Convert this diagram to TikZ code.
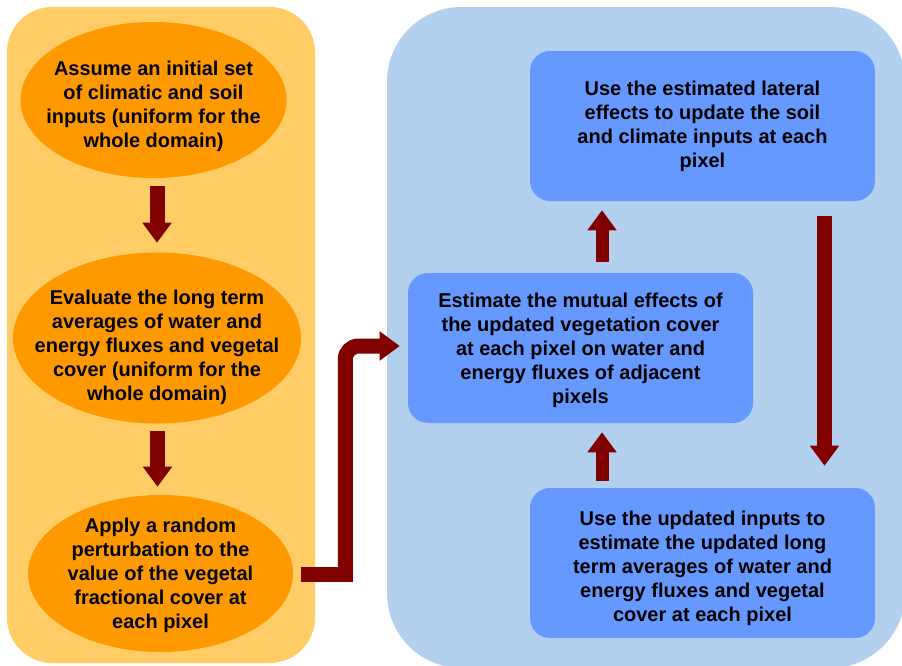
\documentclass[tikz,border=0pt]{standalone}
\usepackage{fontspec}
\setmainfont{Liberation Sans}
\usetikzlibrary{arrows.meta,calc,shapes.geometric}
\definecolor{panelorange}{HTML}{FFCC66}
\definecolor{ellorange}{HTML}{FF9900}
\definecolor{panelblue}{HTML}{B4D0EF}
\definecolor{boxblue}{HTML}{6699FF}
\definecolor{arrowred}{HTML}{800000}
\tikzset{
  ellnode/.style={ellipse, fill=ellorange, draw=none, inner sep=0pt},
  boxnode/.style={rectangle, fill=boxblue, draw=none, rounded corners=15pt, inner sep=0pt,
    minimum width=258.75pt, minimum height=112.5pt},
  txt/.style={align=center, inner sep=0pt, font=\bfseries\fontsize{15}{18}\selectfont},
  shaft/.style={draw=arrowred, line width=11.25pt},
  bigarrow/.style={draw=arrowred, line width=11.25pt, -{Triangle[width=21pt,length=15pt]}},
  smallarrow/.style={draw=arrowred, line width=9.75pt, -{Triangle[width=21pt,length=15pt]}}
}
\begin{document}
\begin{tikzpicture}[x=0.75pt,y=-0.75pt]
\useasboundingbox (0,0) rectangle (902,665);
\fill[white] (0,0) rectangle (902,665);
% panels
\fill[panelorange, rounded corners=34pt] (7,7) rectangle (315,663);
\fill[panelblue, rounded corners=56pt] (387,7) rectangle (905,668);
% ellipses
\node[ellnode, minimum width=199.5pt, minimum height=117pt] (e1) at (153.5,100) {};
\node[ellnode, minimum width=216pt, minimum height=128.25pt] (e2) at (157,338) {};
\node[ellnode, minimum width=198.75pt, minimum height=117.75pt] (e3) at (160.5,573.5) {};
\node[txt] (t1) at (153.5,106) {Assume an initial set\\of climatic and soil\\inputs (uniform for the\\whole domain)};
\node[txt] (t2) at (157,347) {Evaluate the long term\\averages of water and\\energy fluxes and vegetal\\cover (uniform for the\\whole domain)};
\node[txt] (t3) at (160.5,575) {Apply a random\\perturbation to the\\value of the vegetal\\fractional cover at\\each pixel};
% boxes
\node[boxnode] (top) at (702.5,126) {};
\node[boxnode] (mid) at (580.5,348) {};
\node[boxnode] (bot) at (702.5,563) {};
\node[txt] (tt) at (702.5,126) {Use the estimated lateral\\effects to update the soil\\and climate inputs at each\\pixel};
\node[txt] (tm) at (580.5,350) {Estimate the mutual effects of\\the updated vegetation cover\\at each pixel on water and\\energy fluxes of adjacent\\pixels};
\node[txt] (tb) at (702.5,568) {Use the updated inputs to\\estimate the updated long\\term averages of water and\\energy fluxes and vegetal\\cover at each pixel};
% left arrows
\draw[bigarrow] ($(e1.south)+(3.5,8)$) -- ($(e2.north)+(0,-9.5)$);
\draw[bigarrow] ($(e2.south)+(0.5,7.5)$) -- ($(e3.north)+(-3,-8)$);
% elbow arrow
\coordinate (s) at ($(e3.east)+(8,0.5)$);
\coordinate (t) at ($(mid.west)+(-8,-2)$);
\coordinate (cb) at ($(s)+(44,7.5)$);
\coordinate (cv) at ($(s)+(44,0)$);
\draw[shaft] (s) -- ($(s)+(51.5,0)$);
\draw[bigarrow, rounded corners=10pt] (cb) -- (cv |- t) -- (t);
% right arrows
\draw[smallarrow] ($(bot.north)+(-100.5,-7)$) -- ($(mid.south)+(21.5,9)$);
\draw[smallarrow] ($(mid.north)+(21.5,-11)$) -- ($(top.south)+(-100.5,9)$);
\draw[bigarrow] ($(top.south)+(122,15)$) -- ($(bot.north)+(122,-22)$);
\end{tikzpicture}
\end{document}
